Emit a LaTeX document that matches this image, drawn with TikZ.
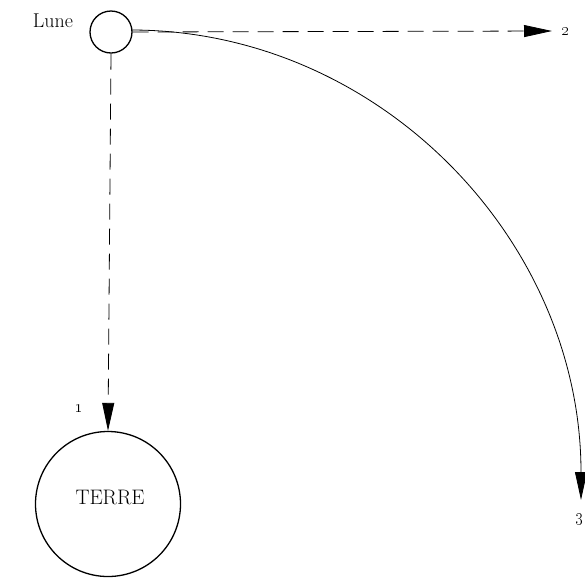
\documentclass[tikz,border=0pt]{standalone}
\usetikzlibrary{arrows.meta}
\begin{document}
\begin{tikzpicture}[x=1pt,y=1pt,
  body/.style={circle,draw,line width=1.3pt,inner sep=0pt},
  dashline/.style={dash pattern=on 16pt off 9pt,line width=0.8pt},
  tip/.style={-{Triangle[length=28pt,width=12pt]}},
  lbl/.style={inner sep=0pt,font=\fontsize{20}{24}\selectfont},
  num/.style={inner sep=0pt,font=\fontsize{16}{19}\selectfont\bfseries}]
\useasboundingbox (0,0) rectangle (585,-579);
\node[body,minimum size=42pt] (lune) at (111,-32) {};
\node[lbl] (lunelbl) at (53,-21) {Lune};
\node[body,minimum size=145pt] (terre) at (108,-504) {};
\node[lbl,font=\fontsize{21}{25}\selectfont] (terrelbl) at (110,-497) {TERRE};
\coordinate (p2) at (552,-31);
\node[num] (n2) at (566,-32) {\oldstylenums{2}};
\node[num] (n1) at (79,-409) {\oldstylenums{1}};
\node[num] (n3) at (580,-519) {\oldstylenums{3}};
\coordinate (arcstart) at (131,-30);
\draw[dashline,tip] (lune.east) -- (p2);
\draw[dashline,tip] (lune.south) -- (terre.north);
\draw[line width=0.8pt,tip] (arcstart) arc[start angle=90,end angle=0,x radius=450,y radius=470];
\end{tikzpicture}
\end{document}
